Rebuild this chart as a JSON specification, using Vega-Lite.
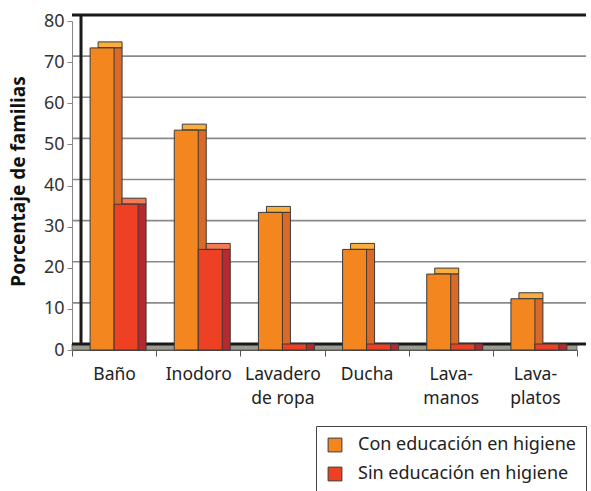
{
  "$schema": "https://vega.github.io/schema/vega-lite/v6.json",
  "autosize": {"type": "none"},
  "padding": {"left": 72, "top": 21, "right": 14, "bottom": 141},
  "width": 505,
  "height": 329,
  "background": "white",
  "config": {
    "view": {"stroke": null},
    "font": "Noto Sans",
    "axis": {"labelFont": "Noto Sans", "titleFont": "Noto Sans", "grid": false},
    "axisX": {
      "tickBand": "extent",
      "domainColor": "#555",
      "domainWidth": 1,
      "tickColor": "#555",
      "tickSize": 6,
      "labelAngle": 0,
      "labelFontSize": 17.5,
      "labelColor": "#222",
      "labelPadding": 9,
      "labelLineHeight": 24,
      "labelBaseline": "top",
      "labelExpr": "datum.label == 'Lavadero de ropa' ? ['Lavadero', 'de ropa'] : datum.label == 'Lava-manos' ? ['Lava-', 'manos'] : datum.label == 'Lava-platos' ? ['Lava-', 'platos'] : datum.label"
    },
    "axisY": {
      "tickCount": 8,
      "domainColor": "#888",
      "tickColor": "#888",
      "tickSize": 5,
      "labelFontSize": 18,
      "labelColor": "#333",
      "labelPadding": 3,
      "titleFontSize": 19,
      "titleFontWeight": "bold",
      "titleColor": "#111",
      "titlePadding": 15,
      "titleY": 160
    },
    "legend": {"labelFont": "Noto Sans"}
  },
  "datasets": {
    "bars": [
      {"cat": "Baño", "serie": "Con educación en higiene", "v": 72},
      {"cat": "Baño", "serie": "Sin educación en higiene", "v": 34},
      {"cat": "Inodoro", "serie": "Con educación en higiene", "v": 52},
      {"cat": "Inodoro", "serie": "Sin educación en higiene", "v": 23},
      {"cat": "Lavadero de ropa", "serie": "Con educación en higiene", "v": 32},
      {"cat": "Lavadero de ropa", "serie": "Sin educación en higiene", "v": 0},
      {"cat": "Ducha", "serie": "Con educación en higiene", "v": 23},
      {"cat": "Ducha", "serie": "Sin educación en higiene", "v": 0},
      {"cat": "Lava-manos", "serie": "Con educación en higiene", "v": 17},
      {"cat": "Lava-manos", "serie": "Sin educación en higiene", "v": 0},
      {"cat": "Lava-platos", "serie": "Con educación en higiene", "v": 11},
      {"cat": "Lava-platos", "serie": "Sin educación en higiene", "v": 0}
    ],
    "grid": [
      {"g": 0}, {"g": 10}, {"g": 20}, {"g": 30}, {"g": 40},
      {"g": 50}, {"g": 60}, {"g": 70}, {"g": 80}
    ]
  },
  "layer": [
    {
      "data": {"name": "grid"},
      "transform": [{"filter": "datum.g == 0"}],
      "mark": {"type": "rect", "color": "#9b9b90", "stroke": "#555", "strokeWidth": 0.8, "yOffset": 0, "y2Offset": -6, "x2Offset": 20},
      "encoding": {
        "y": {"field": "g", "type": "quantitative", "title": "Porcentaje de familias", "scale": {"domain": [0, 80], "nice": false}},
        "y2": {"field": "g"}
      }
    },
    {
      "data": {"name": "grid"},
      "mark": {"type": "rule", "xOffset": 9, "yOffset": -6, "x2Offset": 20},
      "encoding": {
        "y": {"field": "g", "type": "quantitative", "title": "Porcentaje de familias"},
        "color": {"condition": {"test": "datum.g == 0 || datum.g == 80", "value": "#1a1a1a"}, "value": "#8a8a8a"},
        "strokeWidth": {"condition": {"test": "datum.g == 0 || datum.g == 80", "value": 3}, "value": 1.6}
      }
    },
    {
      "data": {"name": "bars"},
      "transform": [{"filter": "datum.serie == 'Con educación en higiene' && datum.v > 0"}],
      "mark": {"type": "bar", "width": {"band": 0.285}, "xOffset": -4, "yOffset": -12, "y2Offset": -6, "color": "#FBAE3C", "stroke": "#3a3a3a", "strokeWidth": 1},
      "encoding": {
        "x": {"field": "cat", "type": "nominal", "sort": null, "title": null, "scale": {"paddingInner": 0, "paddingOuter": 0}},
        "y": {"field": "v", "type": "quantitative", "title": "Porcentaje de familias"},
        "y2": {"field": "v"}
      }
    },
    {
      "data": {"name": "bars"},
      "transform": [{"filter": "datum.serie == 'Con educación en higiene'"}],
      "mark": {"type": "bar", "width": {"band": 0.285}, "xOffset": -4, "yOffset": -6, "y2Offset": 0, "color": "#DC6A27", "stroke": "#3a3a3a", "strokeWidth": 1},
      "encoding": {
        "x": {"field": "cat", "type": "nominal", "sort": null, "title": null},
        "y": {"field": "v", "type": "quantitative", "title": "Porcentaje de familias"},
        "y2": {"datum": 0}
      }
    },
    {
      "data": {"name": "bars"},
      "transform": [{"filter": "datum.serie == 'Con educación en higiene'"}],
      "mark": {"type": "bar", "width": {"band": 0.285}, "xOffset": -12, "yOffset": -6, "y2Offset": 0, "stroke": "#3a3a3a", "strokeWidth": 1, "opacity": 1},
      "encoding": {
        "x": {"field": "cat", "type": "nominal", "sort": null, "title": null},
        "y": {"field": "v", "type": "quantitative", "title": "Porcentaje de familias"},
        "y2": {"datum": 0},
        "color": {
          "field": "serie", "type": "nominal",
          "scale": {"domain": ["Con educación en higiene", "Sin educación en higiene"], "range": ["#F3861F", "#EE4023"]},
          "legend": {
            "title": null,
            "orient": "none",
            "legendX": 244,
            "legendY": 405,
            "padding": 10,
            "strokeColor": "#444",
            "fillColor": "white",
            "symbolType": "square",
            "symbolSize": 190,
            "symbolStrokeColor": "#333",
            "symbolStrokeWidth": 1,
            "symbolOpacity": 1,
            "labelFontSize": 18,
            "labelColor": "#222",
            "labelOffset": 14,
            "rowPadding": 11,
            "labelLimit": 400
          }
        }
      }
    },
    {
      "data": {"name": "bars"},
      "transform": [{"filter": "datum.serie == 'Sin educación en higiene' && datum.v > 0"}],
      "mark": {"type": "bar", "width": {"band": 0.285}, "xOffset": 20, "yOffset": -12, "y2Offset": -6, "color": "#F47A56", "stroke": "#3a3a3a", "strokeWidth": 1},
      "encoding": {
        "x": {"field": "cat", "type": "nominal", "sort": null, "title": null},
        "y": {"field": "v", "type": "quantitative", "title": "Porcentaje de familias"},
        "y2": {"field": "v"}
      }
    },
    {
      "data": {"name": "bars"},
      "transform": [{"filter": "datum.serie == 'Sin educación en higiene'"}],
      "mark": {"type": "bar", "width": {"band": 0.285}, "xOffset": 20, "yOffset": -6, "y2Offset": 0, "color": "#B8282D", "stroke": "#3a3a3a", "strokeWidth": 1},
      "encoding": {
        "x": {"field": "cat", "type": "nominal", "sort": null, "title": null},
        "y": {"field": "v", "type": "quantitative", "title": "Porcentaje de familias"},
        "y2": {"datum": 0}
      }
    },
    {
      "data": {"name": "bars"},
      "transform": [{"filter": "datum.serie == 'Sin educación en higiene'"}],
      "mark": {"type": "bar", "width": {"band": 0.285}, "xOffset": 12, "yOffset": -6, "y2Offset": 0, "stroke": "#3a3a3a", "strokeWidth": 1, "opacity": 1},
      "encoding": {
        "x": {"field": "cat", "type": "nominal", "sort": null, "title": null},
        "y": {"field": "v", "type": "quantitative", "title": "Porcentaje de familias"},
        "y2": {"datum": 0},
        "color": {"field": "serie", "type": "nominal"}
      }
    },
    {
      "data": {"name": "grid"},
      "transform": [{"filter": "datum.g == 0"}],
      "mark": {"type": "rule", "color": "#1a1a1a", "strokeWidth": 3, "xOffset": 9, "yOffset": -6, "y2Offset": -6},
      "encoding": {
        "x": {"datum": "Baño", "bandPosition": 0, "type": "nominal", "title": null},
        "y": {"datum": 0, "type": "quantitative", "title": "Porcentaje de familias"},
        "y2": {"datum": 80}
      }
    }
  ]
}
